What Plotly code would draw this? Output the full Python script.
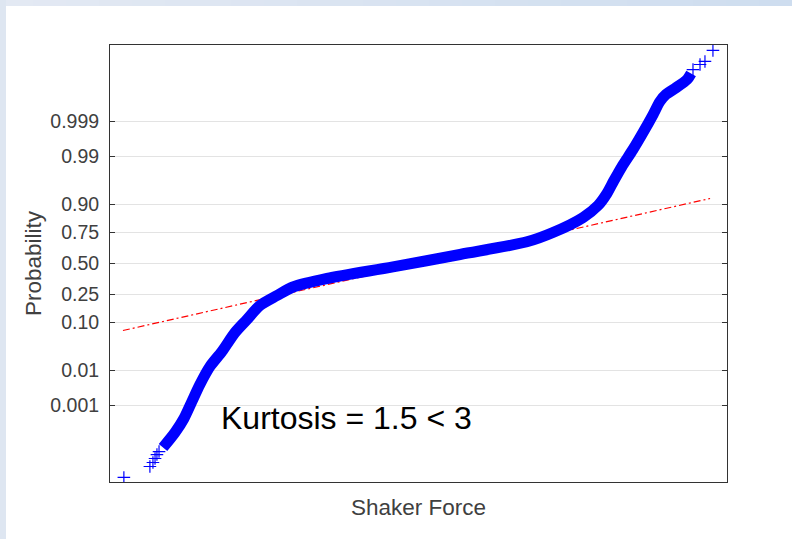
import plotly.graph_objects as go
from statistics import NormalDist

# ---------------- data ----------------
tick_probs = [0.001, 0.01, 0.10, 0.25, 0.50, 0.75, 0.90, 0.99, 0.999]
tick_labels = ["0.001", "0.01", "0.10", "0.25", "0.50", "0.75", "0.90", "0.99", "0.999"]

# dense body of the sorted sample (drawn as a thick band of markers)
band_force = [-1.347, -1.284, -1.237, -1.195, -1.153, -1.100, -1.037, -0.968, -0.905,
              -0.837, -0.747, -0.663, -0.484, -0.137, 0.216, 0.568, 0.705, 0.863,
              0.942, 0.989, 1.026, 1.068, 1.126, 1.179, 1.232, 1.268, 1.300, 1.347,
              1.411, 1.432]
band_prob = [3.17e-5, 1.19e-4, 3.76e-4, 1.35e-3, 4.27e-3, 0.01255, 0.0279, 0.0668, 0.1118,
             0.1806, 0.2433, 0.3047, 0.3722, 0.4705, 0.5777, 0.6815, 0.7498, 0.8413,
             0.8963, 0.9360, 0.9644, 0.9825, 0.99340, 0.99780, 0.999400, 0.999786,
             0.999881, 0.999929, 0.9999683, 0.9999819]

# isolated extreme points in the tails
tail_force = [-1.553, -1.416, -1.400, -1.389, -1.379, -1.368,
              1.442, 1.479, 1.505, 1.547]
tail_prob = [1.65e-6, 5.1e-6, 7.6e-6, 1.12e-5, 1.64e-5, 2.18e-5,
             0.9999876, 0.9999924, 0.9999944, 0.9999982]

# reference (quartile) line end points
ref_force = [-1.558, 1.532]
ref_prob = [0.0726, 0.9212]

annotation_text = "Kurtosis = 1.5 < 3"

# ---------------- normal-probability scale ----------------
nd = NormalDist()


def probit(ps):
    return [nd.inv_cdf(p) for p in ps]


fig = go.Figure()

fig.add_trace(go.Scatter(
    x=ref_force, y=probit(ref_prob), mode="lines",
    line=dict(color="#FF0000", width=1.2, dash="7px,3px,2px,3px"),
    hoverinfo="skip"))

fig.add_trace(go.Scatter(
    x=band_force, y=probit(band_prob), mode="lines",
    line=dict(color="#0000FF", width=11, shape="spline", smoothing=0.8)))

fig.add_trace(go.Scatter(
    x=tail_force, y=probit(tail_prob), mode="markers",
    marker=dict(symbol="cross-thin", size=9, color="#0000FF",
                line=dict(color="#0000FF", width=1.2))))

axis_col = "#333333"
txt_col = "#404040"
fig.update_xaxes(
    range=[-1.626, 1.621], showgrid=False, zeroline=False,
    showline=True, linecolor=axis_col, linewidth=1, mirror=True,
    ticks="", showticklabels=False,
    title=dict(text="Shaker Force", font=dict(size=22.5, color=txt_col), standoff=17))

fig.update_yaxes(
    range=[-4.75, 4.75], tickmode="array",
    tickvals=probit(tick_probs), ticktext=tick_labels,
    ticks="inside", ticklen=5, tickcolor=axis_col, tickwidth=1,
    tickfont=dict(size=19.5, color=txt_col), ticklabelstandoff=6,
    showline=True, linecolor=axis_col, linewidth=1, mirror="ticks",
    showgrid=True, gridcolor="#E3E3E3", gridwidth=1, zeroline=False,
    title=dict(text="Probability", font=dict(size=22.5, color=txt_col), standoff=2))

# light blue slide frame (top and left strips)
W, H = 792, 539
ml, mr, mt, mb = 110, 65, 45, 57
pw, ph = W - ml - mr, H - mt - mb


def px_x(x):
    return (x - ml) / pw


def px_y(y):
    return (H - mb - y) / ph


shapes = []
nseg = 24
c0, c1 = (227, 233, 243), (206, 221, 239)
for i in range(nseg):
    t = i / (nseg - 1)
    col = "rgb(%d,%d,%d)" % tuple(round(a + (b - a) * t) for a, b in zip(c0, c1))
    shapes.append(dict(type="rect", xref="paper", yref="paper",
                       x0=px_x(W * i / nseg), x1=px_x(W * (i + 1) / nseg + 1),
                       y0=px_y(6), y1=px_y(0), fillcolor=col, line=dict(width=0),
                       layer="below"))
shapes.append(dict(type="rect", xref="paper", yref="paper",
                   x0=px_x(0), x1=px_x(6), y0=px_y(H), y1=px_y(0),
                   fillcolor="rgb(222,230,241)", line=dict(width=0), layer="below"))

fig.update_layout(
    width=W, height=H,
    margin=dict(l=ml, r=mr, t=mt, b=mb),
    paper_bgcolor="white", plot_bgcolor="white",
    font=dict(family="Liberation Sans, Arial, sans-serif", color=txt_col),
    showlegend=False,
    shapes=shapes,
    annotations=[dict(text=annotation_text, xref="paper", yref="paper",
                      x=px_x(219), y=px_y(418), xanchor="left", yanchor="middle",
                      showarrow=False, font=dict(size=32, color="black"))])

fig.write_html("out.html",
               config={"displayModeBar": False},
               post_script="document.body.style.margin='0px';document.body.style.padding='0px';")
